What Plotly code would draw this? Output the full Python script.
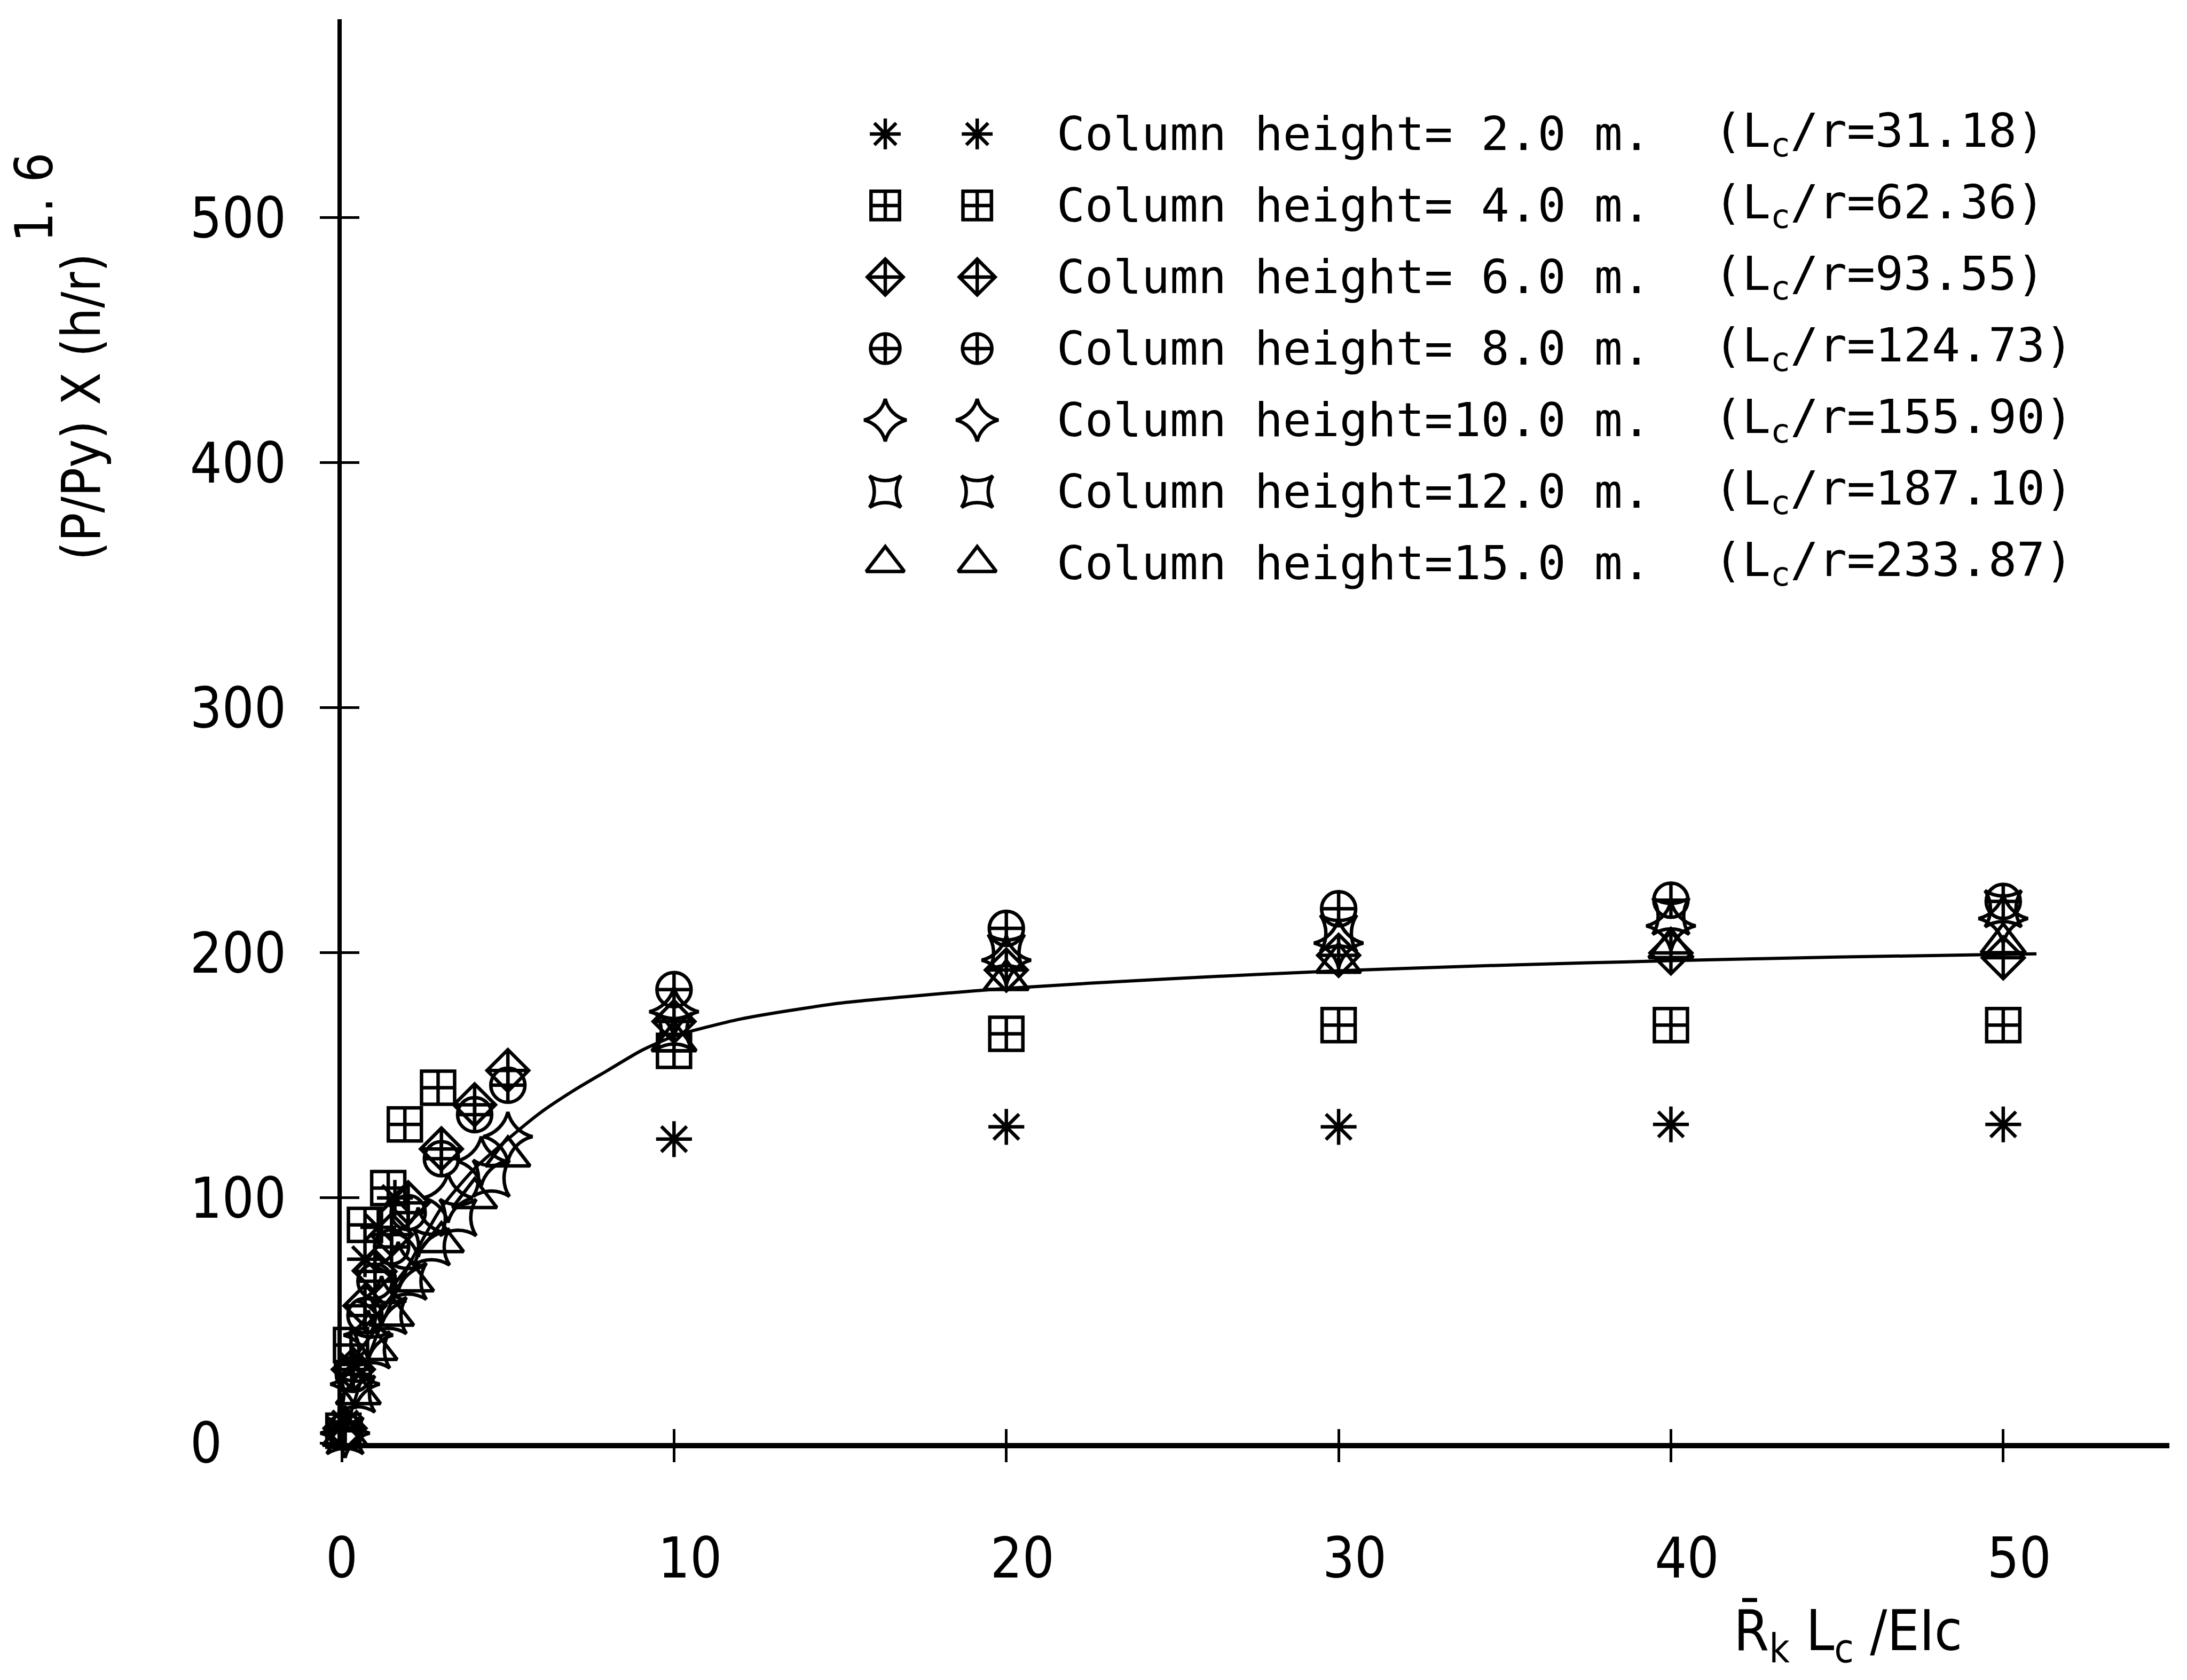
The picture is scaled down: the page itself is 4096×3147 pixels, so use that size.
import plotly.graph_objects as go

# ---------------- data ----------------
# nondimensional connection stiffness  Rk*Lc/EIc  and  (P/Py)*(h/r)^1.6
x_2m = [0.1, 0.3, 0.7, 1.1, 1.6, 10, 20, 30, 40, 50]
y_2m = [8, 32, 75, 88, 100, 124, 129, 129, 130, 130]

x_4m = [0.05, 0.28, 0.7, 1.4, 1.9, 2.9, 10, 20, 30, 40, 50]
y_4m = [5, 40, 89, 104, 130, 145, 160, 167, 170.5, 170.5, 170.5]

x_6m = [0.1, 0.35, 0.7, 1.0, 1.5, 2.0, 3.0, 4.0, 5.0, 10, 20, 30, 40, 50]
y_6m = [6, 30, 56, 70, 85, 98, 120, 138, 152, 172, 193, 199, 200, 198]

x_8m = [0.1, 0.35, 0.7, 1.0, 1.5, 2.0, 3.0, 4.0, 5.0, 10, 20, 30, 40, 50]
y_8m = [5, 28, 52, 66, 80, 94, 116, 134, 146, 185, 210, 218, 221.5, 221]

x_10m = [0.1, 0.4, 0.8, 1.2, 1.7, 2.3, 3.2, 4.2, 5.0, 10, 20, 30, 40, 50]
y_10m = [4, 24, 44, 58, 72, 86, 100, 115, 125, 176, 197, 204, 211, 214]

x_12m = [0.1, 0.45, 0.9, 1.4, 2.0, 2.7, 3.5, 4.5, 10, 20, 30, 40, 50]
y_12m = [3, 20, 38, 52, 66, 80, 92, 108, 168, 200, 208, 215, 218]

x_15m = [0.1, 0.5, 1.0, 1.5, 2.1, 3.0, 4.0, 5.0, 10, 20, 30, 40, 50]
y_15m = [3, 20, 38, 52, 66, 82, 100, 117, 164, 189, 196, 202, 204]

# fitted design curve
fit_x = [0, 0.5, 1, 2, 3, 4, 5, 6, 7, 8, 9, 10, 12, 15, 20, 25, 30, 35, 40, 45, 51]
fit_y = [0, 22, 42, 72, 96, 112, 124, 135, 144, 152, 160, 166, 173, 179.5,
         185.5, 189.5, 192.7, 195, 196.8, 198.3, 199.6]

heights = ["2.0", "4.0", "6.0", "8.0", "10.0", "12.0", "15.0"]
slenderness = ["31.18", "62.36", "93.55", "124.73", "155.90", "187.10", "233.87"]

x_ticks = [0, 10, 20, 30, 40, 50]
y_ticks = [0, 100, 200, 300, 400, 500]

# ---------------- styling ----------------
series = [
    (x_2m, y_2m, "asterisk-open", 56),
    (x_4m, y_4m, "square-cross-open", 62),
    (x_6m, y_6m, "diamond-cross-open", 60),
    (x_8m, y_8m, "circle-cross-open", 64),
    (x_10m, y_10m, "star-diamond-open", 66),
    (x_12m, y_12m, "star-square-open", 62),
    (x_15m, y_15m, "triangle-up-open", 72),
]

SANS = "DejaVu Sans Condensed, DejaVu Sans"
TICK_FONT = dict(family=SANS, size=105, color="black")
MONO = "DejaVu Sans Mono, Liberation Mono, monospace"
LINE_W = 6.5
LEGEND_SCALE = 0.86

fig = go.Figure()

# design curve (drawn on the twin axes that carry the inward ticks)
fig.add_trace(go.Scatter(
    x=fit_x, y=fit_y, mode="lines", xaxis="x2", yaxis="y2",
    line=dict(color="black", width=6, shape="spline", smoothing=0.6),
    hoverinfo="skip", showlegend=False, cliponaxis=False,
))

for (xs, ys, sym, sz), h in zip(series, heights):
    fig.add_trace(go.Scatter(
        x=xs, y=ys, mode="markers", name=f"Column height={h} m.",
        marker=dict(symbol=sym, size=sz, color="black",
                    line=dict(color="black", width=LINE_W)),
        showlegend=False, cliponaxis=False,
    ))

# legend block: two symbols + description per row, in plot-area fractions
sym_x = [0.2974, 0.3477]
txt_x = 0.3906
par_x = 0.7502
row0 = 0.9194
step = 0.05024
for i, ((xs, ys, sym, sz), h, s) in enumerate(zip(series, heights, slenderness)):
    ry = row0 - i * step
    fig.add_trace(go.Scatter(
        x=sym_x, y=[ry, ry], mode="markers", xaxis="x3", yaxis="y3",
        marker=dict(symbol=sym, size=sz * LEGEND_SCALE, color="black",
                    line=dict(color="black", width=LINE_W)),
        showlegend=False, hoverinfo="skip", cliponaxis=False,
    ))
    label = f"Column height={h.rjust(4, chr(160))} m."
    fig.add_annotation(x=txt_x, y=ry, xref="paper", yref="paper",
                       text=label, showarrow=False, xanchor="left", yanchor="middle",
                       font=dict(family=MONO, size=88, color="black"))
    fig.add_annotation(x=par_x, y=ry, xref="paper", yref="paper",
                       text=f"(L<sub>c</sub>/r={s})", showarrow=False,
                       xanchor="left", yanchor="middle",
                       font=dict(family=MONO, size=88, color="black"))

# axis titles
fig.add_annotation(x=-0.1423, y=0.7278, xref="paper", yref="paper",
                   text="(P/Py) X (h/r)", textangle=-90, showarrow=False,
                   xanchor="center", yanchor="middle",
                   font=dict(family=SANS, size=100, color="black"))
fig.add_annotation(x=-0.1683, y=0.8748, xref="paper", yref="paper",
                   text="1. 6", textangle=-90, showarrow=False,
                   xanchor="center", yanchor="middle",
                   font=dict(family=SANS, size=98, color="black"))
fig.add_annotation(x=0.8241, y=-0.1345, xref="paper", yref="paper",
                   text="R\u0304<sub>k</sub> L<sub>c</sub> /EIc", showarrow=False,
                   xanchor="center", yanchor="middle",
                   font=dict(family=SANS, size=106, color="black"))

nb = "\u00a0"
x_tick_text = [nb * (2 * (len(str(v)) - 1)) + str(v) for v in x_ticks]
y_tick_text = [str(v) + nb * (2 * (3 - len(str(v)))) for v in y_ticks]

X_RANGE = [0, 55]
Y_RANGE = [0, 581]

fig.update_layout(
    width=4096, height=3147,
    margin=dict(l=640, r=33, t=36, b=444, pad=0),
    paper_bgcolor="white", plot_bgcolor="white",
    showlegend=False,
    xaxis=dict(range=X_RANGE, showgrid=False, zeroline=False,
               showline=True, linecolor="black", linewidth=10,
               ticks="outside", ticklen=26, tickwidth=5, tickcolor="black",
               tickvals=x_ticks, ticktext=x_tick_text, tickfont=TICK_FONT,
               ticklabelstandoff=90),
    yaxis=dict(range=Y_RANGE, showgrid=False, zeroline=False,
               showline=True, linecolor="black", linewidth=8,
               ticks="outside", ticklen=33, tickwidth=5, tickcolor="black",
               tickvals=y_ticks, ticktext=y_tick_text, tickfont=TICK_FONT,
               ticklabelstandoff=42),
    xaxis2=dict(range=X_RANGE, overlaying="x", showgrid=False, zeroline=False,
                showline=False, ticks="inside", ticklen=26, tickwidth=5,
                tickcolor="black", tickvals=x_ticks, showticklabels=False),
    yaxis2=dict(range=Y_RANGE, overlaying="y", showgrid=False, zeroline=False,
                showline=False, ticks="inside", ticklen=33, tickwidth=5,
                tickcolor="black", tickvals=y_ticks, showticklabels=False),
    xaxis3=dict(range=[0, 1], overlaying="x", visible=False),
    yaxis3=dict(range=[0, 1], overlaying="y", visible=False),
)

fig.write_html("out.html")
